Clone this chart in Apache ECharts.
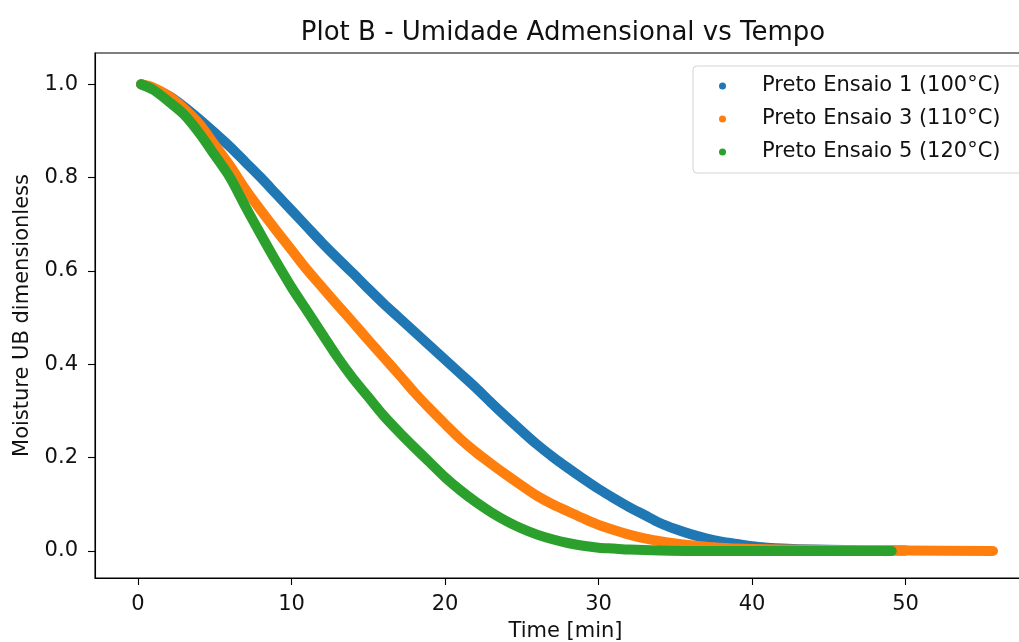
<!DOCTYPE html>
<html>
<head>
<meta charset="utf-8">
<title>Plot B</title>
<script src="https://cdn.jsdelivr.net/npm/echarts@6/dist/echarts.min.js"></script>
<style>
    html, body { margin: 0; padding: 0; background: #fff; }
    #main { width: 1019px; height: 642px; }
</style>
</head>
<body>
<div id="main"></div>
<script>
// values (time in min, moisture dimensionless)
const names = ['Preto Ensaio 1 (100°C)', 'Preto Ensaio 3 (110°C)', 'Preto Ensaio 5 (120°C)']

const tBlue = [0.2, 1, 2, 3, 4, 5, 6, 7, 8, 9, 10, 11, 12, 13, 14, 15, 16, 17, 18, 19, 20,
    21, 22, 23, 24, 25, 26, 27, 28, 29, 30, 31, 32, 33, 34, 35, 36, 37, 38, 39, 40, 41, 42, 44, 46, 48, 50]
const yBlue = [1.0, 0.99, 0.975, 0.952, 0.925, 0.896, 0.866, 0.833, 0.80, 0.765, 0.73, 0.695, 0.66, 0.627, 0.595, 0.562, 0.53, 0.50, 0.47, 0.44, 0.41,
    0.38, 0.35, 0.318, 0.287, 0.257, 0.228, 0.202, 0.178, 0.155, 0.133, 0.113, 0.094, 0.077, 0.06, 0.047, 0.036, 0.027, 0.02, 0.015, 0.01, 0.007, 0.005, 0.003, 0.002, 0.001, 0.001]

const tOrange = [0.2, 1, 2, 3, 4, 5, 6, 7, 8, 9, 10, 11, 12, 13, 14, 15, 16, 17, 18, 19, 20,
    21, 22, 23, 24, 25, 26, 27, 28, 29, 30, 31, 32, 33, 34, 35, 36, 37, 38, 39, 40, 42, 45, 50, 55.7]
const yOrange = [1.0, 0.993, 0.975, 0.948, 0.915, 0.87, 0.825, 0.775, 0.73, 0.687, 0.645, 0.603, 0.565, 0.527, 0.49, 0.452, 0.415, 0.378, 0.34, 0.305, 0.272,
    0.24, 0.212, 0.187, 0.163, 0.14, 0.118, 0.1, 0.085, 0.07, 0.056, 0.045, 0.035, 0.027, 0.021, 0.016, 0.012, 0.009, 0.007, 0.005, 0.004, 0.003, 0.002, 0.001, 0.0]

const tGreen = [0.2, 1, 2, 3, 4, 5, 6, 7, 8, 9, 10, 11, 12, 13, 14, 15, 16, 17, 18, 19, 20,
    21, 22, 23, 24, 25, 26, 27, 28, 29, 30, 31, 32, 34, 36, 40, 45, 49.1]
const yGreen = [1.0, 0.988, 0.963, 0.935, 0.895, 0.848, 0.80, 0.738, 0.678, 0.62, 0.565, 0.515, 0.465, 0.415, 0.37, 0.33, 0.29, 0.255, 0.222, 0.19, 0.158,
    0.13, 0.105, 0.083, 0.064, 0.048, 0.035, 0.025, 0.017, 0.011, 0.007, 0.005, 0.003, 0.001, 0.0, 0.0, 0.0, 0.0]

const xTicks = [0, 10, 20, 30, 40, 50]
const yTicks = [0, 0.2, 0.4, 0.6, 0.8, 1.0]

const colors = ['#1f77b4', '#ff7f0e', '#2ca02c']
const font = 'DejaVu Sans'

const pairs = (xs, ys) => xs.map((x, i) => [x, ys[i]])

const makeSeries = (name, xs, ys, color) => {
    return {
        name: name,
        type: 'line',
        data: pairs(xs, ys),
        showSymbol: false,
        symbol: 'circle',
        smooth: 0.3,
        color: color,
        lineStyle: { width: 10, color: color, cap: 'round', join: 'round' },
        emphasis: { disabled: true },
        silent: true,
    }
}

const drawChart = () => {
    let chart = echarts.init(document.querySelector('#main'))
    let axisCommon = {
        type: 'value',
        nameLocation: 'middle',
        nameTextStyle: { fontFamily: font, fontSize: 21, color: '#111' },
        axisLine: { show: true, onZero: false, lineStyle: { color: '#000', width: 1.1 } },
        axisTick: { show: true, inside: false, length: 7, lineStyle: { color: '#000', width: 1.1 } },
        splitLine: { show: false },
    }
    let option = {
        animation: false,
        backgroundColor: '#fff',
        title: {
            text: 'Plot B - Umidade Admensional vs Tempo',
            left: 558,
            top: 15,
            textAlign: 'center',
            textStyle: { fontFamily: font, fontSize: 26, fontWeight: 'normal', color: '#111' },
        },
        legend: {
            data: names,
            orient: 'vertical',
            left: 693,
            top: 66,
            icon: 'circle',
            itemWidth: 7,
            itemHeight: 7,
            itemGap: 9,
            padding: [8, 30, 9, 26],
            backgroundColor: '#fff',
            borderColor: '#d4d4d4',
            borderWidth: 1,
            borderRadius: 4,
            textStyle: { fontFamily: font, fontSize: 21, color: '#111', lineHeight: 24, padding: [0, 0, 0, 31] },
        },
        grid: {
            left: 95,
            top: 53,
            width: 941,
            height: 525,
            outerBoundsMode: 'none',
            show: true,
            borderColor: '#000',
            borderWidth: 1.1,
            backgroundColor: 'transparent',
        },
        xAxis: Object.assign({}, axisCommon, {
            name: 'Time [min]',
            nameGap: 43,
            min: -2.8,
            max: 58.5,
            axisTick: Object.assign({}, axisCommon.axisTick, { customValues: xTicks }),
            axisLabel: { customValues: xTicks, margin: 16, fontFamily: font, fontSize: 21, color: '#111' },
        }),
        yAxis: Object.assign({}, axisCommon, {
            name: 'Moisture UB dimensionless',
            nameGap: 62,
            min: -0.058,
            max: 1.067,
            axisTick: Object.assign({}, axisCommon.axisTick, { customValues: yTicks }),
            axisLabel: {
                customValues: yTicks, margin: 17, fontFamily: font, fontSize: 21, color: '#111',
                formatter: (v) => v.toFixed(1),
            },
        }),
        series: [
            makeSeries(names[0], tBlue, yBlue, colors[0]),
            makeSeries(names[1], tOrange, yOrange, colors[1]),
            makeSeries(names[2], tGreen, yGreen, colors[2]),
        ],
    }
    chart.setOption(option)
}

const __main = () => {
    drawChart()
}

__main()
</script>
</body>
</html>
